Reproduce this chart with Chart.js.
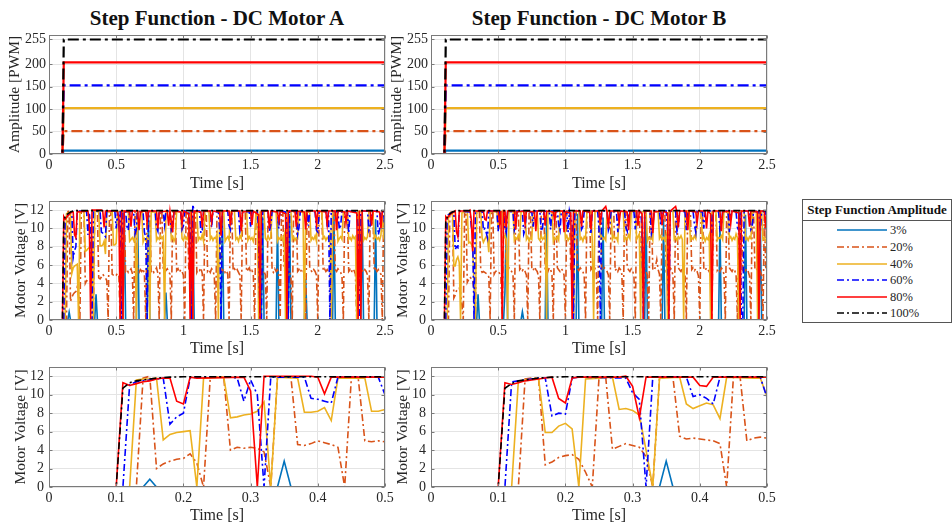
<!DOCTYPE html>
<html>
<head>
<meta charset="utf-8">
<title>Step Function - DC Motor A / B</title>
<script src="https://cdn.jsdelivr.net/npm/chart.js"></script>
<style>
  body { margin: 0; background: #fff; width: 952px; height: 524px; overflow: hidden; position: relative;
         font-family: 'Liberation Serif', 'Times New Roman', serif; color: #262626; }
  canvas { position: absolute; }
  .title { position: absolute; top: 6px; width: 400px; text-align: center; font-weight: bold; font-size: 21px; color: #111; }
  .legend { position: absolute; left: 802px; top: 199px; width: 148px; height: 122px; border: 1px solid #555; background: #fff; }
  .legend .head { height: 20px; line-height: 20px; text-align: center; font-weight: bold; font-size: 13px; color: #111; border-bottom: 1px solid #555; }
  .legend .rows { padding-top: 1.4px; }
  .legend .row { position: relative; height: 16.6px; }
  .legend .row canvas { left: 34px; top: 3px; }
  .legend .row span { position: absolute; left: 87px; top: 0; line-height: 16.6px; font-size: 12.5px; color: #262626; }
</style>
</head>
<body>
<div class="title" style="left:17px">Step Function - DC Motor A</div>
<div class="title" style="left:399px">Step Function - DC Motor B</div>
<div class="legend" id="legend">
  <div class="head">Step Function Amplitude</div>
  <div class="rows" id="legendRows"></div>
</div>

<script>
// axis ticks
const pwmTicks = [0, 50, 100, 150, 200, 255];
const voltTicks = [0, 2, 4, 6, 8, 10, 12];
const timeTicksFull = [0, 0.5, 1, 1.5, 2, 2.5];
const timeTicksZoom = [0, 0.1, 0.2, 0.3, 0.4, 0.5];

// series styling, one entry per step amplitude
const amplitudeLabels = ['3%', '20%', '40%', '60%', '80%', '100%'];
const amplitudeColors = ['#0072BD', '#D95319', '#EDB120', '#0000FF', '#FF0000', '#000000'];
const amplitudeDashed = [false, true, false, true, false, true];

// PWM command: 0 until the step, then the level
const pwmLevels = [7.65, 51, 102, 153, 204, 255];
const stepTimes = [0, 0.1, 0.11, 2.5];

// measured motor voltage, [time s, volts]
const motorA_v3 = [[0,0],[0.14,0],[0.15,0.85],[0.16,0],[0.34,0],[0.35,2.8],[0.36,0],[0.55,0],[0.56,11.6],[0.57,0],[0.65,0],[0.66,11.2],[0.67,0],[0.73,0],[0.74,11.5],[0.75,0],[0.86,0],[0.87,3.0],[0.88,0],[1.06,0],[1.07,11.4],[1.08,0],[1.28,0],[1.29,11.7],[1.3,0],[1.58,0],[1.59,11.3],[1.6,0],[1.69,0],[1.7,10.8],[1.71,0],[1.78,0],[1.79,11.6],[1.8,0],[1.9,0],[1.91,4.5],[1.92,0],[2.11,0],[2.12,11.5],[2.13,0],[2.32,0],[2.33,11.6],[2.34,0],[2.42,0],[2.43,11.0],[2.44,0],[2.5,0]];

const motorA_v20 = [[0,0],[0.13,0],[0.14,11.8],[0.15,12],[0.16,2.0],[0.17,2.5],[0.18,2.8],[0.19,3.0],[0.2,3.1],[0.21,3.6],[0.22,2.6],[0.23,0],[0.24,11.9],[0.26,11.9],[0.27,4.0],[0.28,4.3],[0.29,4.2],[0.3,4.3],[0.31,4.2],[0.32,3.8],[0.33,0],[0.34,11.9],[0.36,11.9],[0.37,4.6],[0.38,4.5],[0.39,4.7],[0.4,5.0],[0.41,4.8],[0.42,4.6],[0.43,4.3],[0.44,0],[0.45,11.9],[0.46,11.9],[0.47,5.0],[0.48,4.9],[0.49,5.0],[0.5,4.9],
  [0.51,5.1],[0.52,4.8],[0.53,0],[0.54,11.9],[0.56,11.9],[0.57,5.3],[0.58,5.5],[0.59,5.2],[0.6,5.4],[0.61,5.6],[0.62,5.1],[0.63,0],[0.64,11.9],[0.65,11.9],[0.66,5.4],[0.67,5.2],[0.68,5.5],[0.69,5.3],[0.7,5.6],[0.71,5.0],[0.72,0],[0.73,11.8],[0.75,11.9],[0.76,5.3],[0.77,5.5],[0.78,5.2],[0.79,5.4],[0.8,5.7],[0.81,5.1],[0.82,0],[0.83,11.9],[0.84,11.9],[0.85,5.5],[0.86,5.2],[0.87,5.4],[0.88,5.6],[0.89,5.3],[0.9,5.0],[0.91,0],[0.92,11.9],[0.94,11.8],[0.95,5.4],[0.96,5.6],[0.97,5.2],[0.98,5.5],[0.99,5.3],[1.0,4.9],[1.01,0],[1.02,11.9],[1.03,11.9],[1.04,5.6],[1.05,5.3],[1.06,0],[1.07,11.9],[1.09,11.9],[1.1,5.2],[1.11,5.5],[1.12,5.4],[1.13,5.7],[1.14,5.1],[1.15,0],[1.16,11.9],[1.17,11.9],[1.18,5.3],[1.19,5.5],[1.2,5.2],[1.21,5.6],[1.22,5.4],[1.23,4.8],[1.24,0],[1.25,11.9],[1.27,11.8],[1.28,5.5],[1.29,5.3],[1.3,5.6],[1.31,5.2],[1.32,5.4],[1.33,5.0],[1.34,0],[1.35,11.9],[1.36,11.9],[1.37,5.4],[1.38,5.6],[1.39,5.3],[1.4,5.5],[1.41,5.2],[1.42,4.9],[1.43,0],[1.44,11.9],[1.46,11.9],[1.47,5.3],[1.48,5.5],[1.49,5.7],[1.5,5.2],[1.51,5.4],[1.52,5.1],[1.53,0],[1.54,11.8],[1.55,11.9],[1.56,5.6],[1.57,5.3],[1.58,5.5],[1.59,5.2],[1.6,5.4],[1.61,4.9],[1.62,0],[1.63,11.9],[1.65,11.9],[1.66,5.4],[1.67,5.2],[1.68,5.6],[1.69,5.3],[1.7,5.5],[1.71,5.0],[1.72,0],[1.73,11.9],[1.74,11.9],[1.75,5.5],[1.76,5.3],[1.77,5.6],[1.78,5.4],[1.79,5.2],[1.8,4.8],[1.81,0],[1.82,11.9],[1.84,11.8],[1.85,5.3],[1.86,5.5],[1.87,5.2],[1.88,5.6],[1.89,5.4],[1.9,5.0],[1.91,0],[1.92,11.9],[1.93,11.9],[1.94,5.6],[1.95,5.4],[1.96,5.2],[1.97,5.5],[1.98,5.3],[1.99,4.9],[2.0,0],[2.01,11.9],[2.03,11.9],[2.04,5.4],[2.05,5.6],[2.06,5.3],[2.07,5.5],[2.08,5.2],[2.09,5.0],[2.1,0],[2.11,11.9],[2.12,11.9],[2.13,5.5],[2.14,5.3],[2.15,5.6],[2.16,5.4],[2.17,5.2],[2.18,4.8],[2.19,0],[2.2,11.8],[2.22,11.9],[2.23,5.3],[2.24,5.5],[2.25,5.2],[2.26,5.6],[2.27,5.4],[2.28,5.0],[2.29,0],[2.3,11.9],[2.31,11.9],[2.32,5.6],[2.33,5.4],[2.34,5.2],[2.35,5.5],[2.36,5.3],[2.37,4.9],[2.38,0],[2.39,11.9],[2.41,11.9],[2.42,5.4],[2.43,5.6],[2.44,5.3],[2.45,5.5],[2.46,5.2],[2.47,5.0],[2.48,0],[2.49,11.9],[2.5,11.9]];

const motorA_v40 = [[0,0],[0.12,0],[0.13,11.6],[0.14,11.7],[0.15,11.7],[0.16,11.8],[0.17,5.1],[0.18,5.7],[0.19,5.9],[0.2,6.0],[0.21,6.1],[0.22,0],[0.23,11.8],[0.26,11.9],[0.27,7.5],[0.28,7.6],[0.29,7.8],[0.3,7.9],[0.31,8.2],[0.32,9.2],[0.33,0],[0.34,11.9],[0.37,11.8],[0.38,8.1],[0.39,8.1],[0.4,8.2],[0.41,8.6],[0.42,7.2],[0.43,11.8],[0.47,11.8],[0.48,8.2],[0.49,8.2],[0.5,8.4],
  [0.51,11.8],[0.54,11.9],[0.55,0],[0.56,11.8],[0.59,11.8],[0.6,8.6],[0.61,8.8],[0.62,9.0],[0.63,8.7],[0.64,9.3],[0.65,0],[0.66,11.8],[0.69,11.9],[0.7,8.5],[0.71,8.9],[0.72,8.7],[0.73,9.1],[0.74,8.8],[0.75,0],[0.76,11.8],[0.79,11.8],[0.8,8.7],[0.81,9.0],[0.82,8.8],[0.83,9.2],[0.84,8.9],[0.85,9.1],[0.86,0],[0.87,11.9],[0.9,11.8],[0.91,8.8],[0.92,9.1],[0.93,8.6],[0.94,9.0],[0.95,11.9],[0.98,11.8],[0.99,8.9],[1.0,8.7],[1.01,9.2],[1.02,8.8],[1.03,9.0],[1.04,8.6],[1.05,11.8],[1.06,11.9],[1.07,0],[1.08,11.8],[1.1,11.9],[1.11,8.7],[1.12,9.0],[1.13,8.8],[1.14,9.3],[1.15,8.6],[1.16,11.9],[1.19,11.8],[1.2,8.8],[1.21,9.1],[1.22,8.7],[1.23,9.0],[1.24,8.9],[1.25,9.4],[1.26,0],[1.27,11.8],[1.3,11.9],[1.31,8.6],[1.32,8.9],[1.33,9.1],[1.34,8.7],[1.35,11.8],[1.38,11.9],[1.39,8.8],[1.4,9.0],[1.41,8.6],[1.42,9.2],[1.43,8.9],[1.44,11.8],[1.47,11.9],[1.48,8.7],[1.49,9.1],[1.5,8.8],[1.51,9.0],[1.52,8.6],[1.53,9.3],[1.54,11.8],[1.55,11.9],[1.56,0],[1.57,11.8],[1.6,11.8],[1.61,8.9],[1.62,8.7],[1.63,9.2],[1.64,8.8],[1.65,9.0],[1.66,11.9],[1.69,11.8],[1.7,8.6],[1.71,9.0],[1.72,8.8],[1.73,9.1],[1.74,8.7],[1.75,9.3],[1.76,0],[1.77,11.8],[1.8,11.9],[1.81,8.8],[1.82,9.1],[1.83,8.7],[1.84,9.0],[1.85,8.9],[1.86,11.8],[1.89,11.8],[1.9,0],[1.91,11.9],[1.94,11.8],[1.95,8.7],[1.96,9.0],[1.97,8.8],[1.98,9.2],[1.99,8.6],[2.0,11.9],[2.03,11.8],[2.04,8.9],[2.05,9.1],[2.06,8.7],[2.07,9.0],[2.08,8.8],[2.09,9.4],[2.1,0],[2.11,11.8],[2.14,11.9],[2.15,8.6],[2.16,8.9],[2.17,9.1],[2.18,8.8],[2.19,11.8],[2.22,11.9],[2.23,8.8],[2.24,9.0],[2.25,8.7],[2.26,9.2],[2.27,8.9],[2.28,9.1],[2.29,0],[2.3,11.8],[2.33,11.9],[2.34,8.7],[2.35,9.0],[2.36,8.8],[2.37,9.1],[2.38,11.9],[2.41,11.8],[2.42,8.9],[2.43,9.2],[2.44,8.8],[2.45,9.0],[2.46,8.7],[2.47,9.3],[2.48,11.8],[2.49,9.0],[2.5,8.6]];

const motorA_v60 = [[0,0],[0.11,0],[0.12,11.1],[0.13,11.4],[0.14,11.5],[0.15,11.6],[0.16,11.7],[0.17,11.8],[0.18,6.8],[0.19,7.6],[0.2,8.0],[0.21,11.8],[0.22,11.9],[0.27,11.9],[0.28,11.8],[0.29,9.3],[0.3,11.6],[0.31,10.0],[0.32,0],[0.33,11.9],[0.38,11.9],[0.39,9.6],[0.4,9.5],[0.41,9.3],[0.42,9.1],[0.43,11.9],[0.49,11.9],[0.5,10.0],
  [0.51,11.8],[0.52,10.4],[0.53,11.9],[0.54,0],[0.55,11.8],[0.57,11.9],[0.58,10.2],[0.59,9.8],[0.6,11.9],[0.63,11.8],[0.64,9.4],[0.65,9.9],[0.66,11.9],[0.7,11.8],[0.71,9.6],[0.72,9.0],[0.73,0],[0.74,11.9],[0.79,11.9],[0.8,10.1],[0.81,9.7],[0.82,11.9],[0.85,11.8],[0.86,10.4],[0.87,11.9],[0.9,11.9],[0.91,9.8],[0.92,10.2],[0.93,11.9],[0.98,11.9],[0.99,9.9],[1.0,10.3],[1.01,11.9],[1.04,11.8],[1.05,10.0],[1.06,0],[1.07,12.6],[1.08,11.9],[1.12,11.9],[1.13,9.5],[1.14,9.8],[1.15,11.9],[1.2,11.9],[1.21,10.1],[1.22,11.9],[1.26,11.8],[1.27,9.7],[1.28,0],[1.29,11.9],[1.33,11.9],[1.34,10.3],[1.35,9.9],[1.36,11.9],[1.41,11.9],[1.42,9.6],[1.43,10.0],[1.44,11.9],[1.49,11.8],[1.5,10.2],[1.51,11.9],[1.55,11.8],[1.56,9.9],[1.57,0],[1.58,0],[1.59,11.9],[1.63,11.9],[1.64,9.7],[1.65,10.4],[1.66,11.9],[1.7,11.8],[1.71,10.0],[1.72,11.9],[1.76,11.8],[1.77,10.5],[1.78,0],[1.79,11.9],[1.84,11.9],[1.85,9.4],[1.86,10.1],[1.87,11.9],[1.92,11.9],[1.93,10.3],[1.94,11.9],[1.98,11.8],[1.99,9.8],[2.0,9.6],[2.01,11.9],[2.06,11.9],[2.07,10.2],[2.08,11.9],[2.09,0],[2.1,11.9],[2.15,11.8],[2.16,9.9],[2.17,10.3],[2.18,11.9],[2.22,11.9],[2.23,9.5],[2.24,11.9],[2.29,11.8],[2.3,10.1],[2.31,0],[2.32,11.9],[2.37,11.9],[2.38,9.8],[2.39,10.2],[2.4,11.9],[2.44,11.9],[2.45,9.3],[2.46,9.9],[2.47,11.9],[2.49,11.8],[2.5,9.6]];

const motorA_v80 = [[0,0],[0.1,0],[0.11,11.3],[0.12,11.0],[0.13,11.2],[0.14,11.4],[0.15,11.5],[0.16,11.7],[0.17,11.8],[0.18,11.8],[0.19,9.3],[0.2,9.0],[0.21,11.9],[0.22,11.8],[0.29,11.9],[0.3,10.4],[0.31,0],[0.32,12],[0.39,12],[0.4,11.9],[0.41,10.1],[0.42,11.9],[0.5,11.9],
  [0.51,11.8],[0.52,11.2],[0.53,0],[0.54,12],[0.55,0],[0.56,11.9],[0.6,11.8],[0.61,10.2],[0.62,11.9],[0.66,11.9],[0.67,9.8],[0.68,11.8],[0.72,11.9],[0.73,10.6],[0.74,11.9],[0.8,11.9],[0.81,10.0],[0.82,11.8],[0.88,11.9],[0.89,10.3],[0.9,11.9],[0.92,9.6],[0.93,11.9],[0.98,11.8],[0.99,10.5],[1.0,11.9],[1.04,11.6],[1.05,0],[1.06,12],[1.07,0],[1.08,11.9],[1.13,11.8],[1.14,10.1],[1.15,11.9],[1.2,11.9],[1.21,10.7],[1.22,11.9],[1.27,11.8],[1.28,9.2],[1.29,11.9],[1.34,11.9],[1.35,10.3],[1.36,11.9],[1.42,11.9],[1.43,9.7],[1.44,11.8],[1.5,11.9],[1.51,10.4],[1.52,11.9],[1.56,11.5],[1.57,0],[1.58,11.9],[1.63,11.9],[1.64,10.0],[1.65,11.9],[1.7,11.8],[1.71,10.8],[1.72,11.9],[1.76,11.6],[1.77,0],[1.78,11.9],[1.83,11.9],[1.84,10.2],[1.85,11.9],[1.9,11.8],[1.91,9.9],[1.92,11.9],[1.98,11.9],[1.99,10.5],[2.0,11.9],[2.06,11.8],[2.07,10.4],[2.08,11.9],[2.13,11.9],[2.14,9.8],[2.15,11.9],[2.2,11.8],[2.21,10.6],[2.22,11.9],[2.29,11.7],[2.3,0],[2.31,11.9],[2.32,0],[2.33,11.9],[2.39,11.9],[2.4,10.3],[2.41,11.9],[2.46,11.8],[2.47,10.0],[2.48,11.9],[2.5,11.9]];

const motorA_v100 = [[0,0],[0.1,0],[0.11,10.7],[0.12,11.3],[0.13,11.5],[0.14,11.6],[0.15,11.7],[0.16,11.8],[0.17,11.85],[0.18,11.9],[0.2,11.95],[2.5,11.95]];

const motorB_v3 = [[0,0],[0.34,0],[0.35,2.8],[0.36,0],[0.54,0],[0.55,3.0],[0.56,11.4],[0.57,0],[0.67,0],[0.68,0.9],[0.69,0],[0.85,0],[0.86,11.3],[0.87,0],[1.08,0],[1.09,11.6],[1.1,0],[1.27,0],[1.28,11.2],[1.29,0],[1.59,0],[1.6,11.5],[1.61,0],[1.72,0],[1.73,11.0],[1.74,0],[2.14,0],[2.15,10.6],[2.16,0],[2.33,0],[2.34,11.5],[2.35,0],[2.44,0],[2.45,11.3],[2.46,0],[2.5,0]];

const motorB_v20 = [[0,0],[0.13,0],[0.14,11.7],[0.15,11.8],[0.16,11.8],[0.17,2.4],[0.18,2.7],[0.19,3.2],[0.2,3.4],[0.21,3.5],[0.22,3.0],[0.23,1.6],[0.24,0],[0.25,11.8],[0.26,11.9],[0.27,4.1],[0.28,4.4],[0.29,4.7],[0.3,4.5],[0.31,4.3],[0.32,3.3],[0.33,0],[0.34,11.8],[0.35,11.9],[0.36,11.9],[0.37,5.5],[0.38,5.2],[0.39,5.3],[0.4,5.2],[0.41,5.1],[0.42,5.0],[0.43,4.7],[0.44,0],[0.45,11.9],[0.46,11.9],[0.47,5.0],[0.48,5.3],[0.49,5.4],[0.5,5.3],
  [0.51,5.1],[0.52,4.7],[0.53,0],[0.54,11.9],[0.55,11.9],[0.56,5.6],[0.57,5.4],[0.58,5.7],[0.59,5.5],[0.6,5.3],[0.61,5.0],[0.62,0],[0.63,11.9],[0.65,11.9],[0.66,5.5],[0.67,5.7],[0.68,5.4],[0.69,5.6],[0.7,5.3],[0.71,4.9],[0.72,0],[0.73,11.9],[0.74,11.9],[0.75,5.6],[0.76,5.4],[0.77,5.8],[0.78,5.5],[0.79,5.3],[0.8,4.8],[0.81,0],[0.82,11.9],[0.84,11.8],[0.85,5.4],[0.86,5.6],[0.87,5.3],[0.88,5.7],[0.89,5.5],[0.9,5.0],[0.91,0],[0.92,11.9],[0.93,11.9],[0.94,5.7],[0.95,5.5],[0.96,5.3],[0.97,5.6],[0.98,5.4],[0.99,4.9],[1.0,0],[1.01,11.9],[1.03,11.9],[1.04,5.5],[1.05,5.2],[1.06,0],[1.07,11.8],[1.08,11.9],[1.09,5.6],[1.1,5.4],[1.11,5.7],[1.12,5.5],[1.13,5.3],[1.14,4.8],[1.15,0],[1.16,11.9],[1.18,11.9],[1.19,5.5],[1.2,5.7],[1.21,5.4],[1.22,5.6],[1.23,5.2],[1.24,0],[1.25,11.9],[1.26,11.9],[1.27,5.6],[1.28,5.4],[1.29,5.7],[1.3,5.5],[1.31,5.3],[1.32,4.9],[1.33,0],[1.34,11.9],[1.36,11.8],[1.37,5.4],[1.38,5.6],[1.39,5.3],[1.4,5.7],[1.41,5.5],[1.42,5.0],[1.43,0],[1.44,11.9],[1.45,11.9],[1.46,5.7],[1.47,5.5],[1.48,5.3],[1.49,5.6],[1.5,5.4],[1.51,4.8],[1.52,0],[1.53,11.9],[1.55,11.9],[1.56,5.5],[1.57,5.7],[1.58,5.4],[1.59,5.6],[1.6,5.3],[1.61,4.9],[1.62,0],[1.63,11.9],[1.64,11.9],[1.65,5.6],[1.66,5.4],[1.67,5.8],[1.68,6.6],[1.69,5.5],[1.7,5.0],[1.71,0],[1.72,11.9],[1.74,11.8],[1.75,5.4],[1.76,5.6],[1.77,5.3],[1.78,5.7],[1.79,5.5],[1.8,4.9],[1.81,0],[1.82,11.9],[1.83,11.9],[1.84,5.7],[1.85,5.5],[1.86,5.3],[1.87,5.6],[1.88,5.4],[1.89,5.0],[1.9,0],[1.91,11.9],[1.93,11.9],[1.94,5.5],[1.95,5.7],[1.96,5.4],[1.97,5.6],[1.98,5.3],[1.99,4.8],[2.0,0],[2.01,11.9],[2.02,11.9],[2.03,5.6],[2.04,5.4],[2.05,5.7],[2.06,5.5],[2.07,5.3],[2.08,4.9],[2.09,0],[2.1,11.9],[2.12,11.8],[2.13,5.4],[2.14,5.6],[2.15,5.3],[2.16,5.7],[2.17,5.5],[2.18,5.0],[2.19,0],[2.2,11.9],[2.21,11.9],[2.22,5.7],[2.23,5.5],[2.24,5.3],[2.25,5.6],[2.26,5.4],[2.27,4.9],[2.28,0],[2.29,11.9],[2.31,11.9],[2.32,5.5],[2.33,5.7],[2.34,5.4],[2.35,5.6],[2.36,5.3],[2.37,4.8],[2.38,0],[2.39,11.9],[2.4,11.9],[2.41,5.6],[2.42,5.4],[2.43,5.7],[2.44,5.5],[2.45,5.3],[2.46,4.9],[2.47,0],[2.48,11.9],[2.49,5.8],[2.5,5.5]];

const motorB_v40 = [[0,0],[0.12,0],[0.13,11.5],[0.14,11.6],[0.15,11.7],[0.16,11.8],[0.17,5.9],[0.18,5.9],[0.19,6.6],[0.2,6.9],[0.21,6.3],[0.22,0],[0.23,11.7],[0.25,11.8],[0.27,11.9],[0.28,8.4],[0.29,8.5],[0.3,8.3],[0.31,7.8],[0.32,4.0],[0.33,0],[0.34,11.8],[0.37,11.9],[0.38,9.0],[0.39,8.5],[0.4,8.8],[0.41,9.1],[0.42,8.9],[0.43,7.4],[0.44,11.9],[0.48,11.8],[0.49,11.8],[0.5,9.8],
  [0.51,11.8],[0.53,11.9],[0.54,8.9],[0.55,9.2],[0.56,8.8],[0.57,0],[0.58,11.8],[0.61,11.9],[0.62,8.7],[0.63,9.0],[0.64,8.8],[0.65,9.3],[0.66,8.9],[0.67,11.8],[0.7,11.9],[0.71,8.8],[0.72,9.1],[0.73,8.6],[0.74,9.0],[0.75,8.8],[0.76,11.9],[0.79,11.8],[0.8,8.9],[0.81,8.7],[0.82,9.2],[0.83,8.8],[0.84,9.0],[0.85,9.3],[0.86,0],[0.87,11.8],[0.9,11.9],[0.91,8.6],[0.92,9.0],[0.93,8.8],[0.94,9.1],[0.95,8.7],[0.96,11.9],[0.99,11.8],[1.0,8.9],[1.01,9.2],[1.02,8.7],[1.03,9.0],[1.04,8.8],[1.05,9.4],[1.06,0],[1.07,11.8],[1.1,11.9],[1.11,8.8],[1.12,9.0],[1.13,8.6],[1.14,9.1],[1.15,8.9],[1.16,11.8],[1.19,11.9],[1.2,8.7],[1.21,0],[1.22,11.8],[1.25,11.9],[1.26,8.9],[1.27,9.1],[1.28,8.8],[1.29,9.0],[1.3,8.7],[1.31,11.9],[1.34,11.8],[1.35,8.8],[1.36,9.2],[1.37,8.9],[1.38,9.0],[1.39,8.6],[1.4,11.8],[1.43,11.9],[1.44,8.7],[1.45,9.0],[1.46,8.8],[1.47,9.3],[1.48,8.9],[1.49,11.8],[1.52,11.9],[1.53,8.8],[1.54,9.1],[1.55,9.4],[1.56,0],[1.57,11.8],[1.6,11.9],[1.61,8.6],[1.62,9.0],[1.63,8.8],[1.64,9.1],[1.65,8.7],[1.66,11.9],[1.69,11.8],[1.7,8.9],[1.71,9.2],[1.72,8.8],[1.73,9.0],[1.74,8.7],[1.75,9.3],[1.76,0],[1.77,11.8],[1.8,11.9],[1.81,8.8],[1.82,9.0],[1.83,8.7],[1.84,9.1],[1.85,8.9],[1.86,9.2],[1.87,8.8],[1.88,0],[1.89,11.8],[1.92,11.9],[1.93,8.7],[1.94,9.0],[1.95,8.8],[1.96,9.2],[1.97,8.9],[1.98,11.8],[2.01,11.9],[2.02,8.8],[2.03,9.1],[2.04,8.6],[2.05,9.0],[2.06,8.8],[2.07,9.3],[2.08,0],[2.09,11.8],[2.12,11.9],[2.13,8.7],[2.14,9.0],[2.15,8.9],[2.16,9.2],[2.17,8.8],[2.18,11.9],[2.21,11.8],[2.22,8.9],[2.23,9.1],[2.24,8.7],[2.25,9.0],[2.26,8.8],[2.27,9.4],[2.28,9.0],[2.29,0],[2.3,11.8],[2.33,11.9],[2.34,8.8],[2.35,9.0],[2.36,8.7],[2.37,9.1],[2.38,8.9],[2.39,11.8],[2.42,11.9],[2.43,0],[2.44,11.8],[2.46,11.9],[2.47,8.8],[2.48,9.0],[2.49,8.7],[2.5,8.5]];

const motorB_v60 = [[0,0],[0.11,0],[0.12,11.4],[0.13,11.5],[0.14,11.6],[0.15,11.7],[0.16,11.8],[0.17,11.8],[0.18,7.7],[0.19,8.0],[0.2,7.9],[0.21,11.8],[0.22,11.9],[0.29,11.8],[0.3,10.2],[0.31,9.5],[0.32,0],[0.33,11.9],[0.38,11.9],[0.39,9.8],[0.4,10.0],[0.41,9.6],[0.42,9.0],[0.43,11.9],[0.49,11.9],[0.5,9.7],
  [0.51,11.9],[0.54,11.9],[0.55,10.0],[0.56,9.6],[0.57,11.9],[0.61,11.8],[0.62,9.8],[0.63,10.3],[0.64,11.9],[0.68,11.9],[0.69,9.4],[0.7,9.9],[0.71,11.9],[0.75,11.8],[0.76,10.2],[0.77,11.9],[0.81,11.9],[0.82,9.7],[0.83,10.1],[0.84,11.9],[0.88,11.8],[0.89,9.9],[0.9,11.9],[0.94,11.9],[0.95,10.4],[0.96,9.8],[0.97,11.9],[1.01,11.8],[1.02,9.6],[1.03,11.9],[1.05,10.5],[1.06,0],[1.07,11.9],[1.11,11.9],[1.12,9.9],[1.13,10.2],[1.14,11.9],[1.18,11.8],[1.19,9.5],[1.2,11.9],[1.24,11.9],[1.25,10.0],[1.26,0],[1.27,11.9],[1.31,11.9],[1.32,9.8],[1.33,10.3],[1.34,11.9],[1.38,11.8],[1.39,9.6],[1.4,11.9],[1.44,11.9],[1.45,10.1],[1.46,9.7],[1.47,11.9],[1.51,11.8],[1.52,9.9],[1.53,11.9],[1.56,11.8],[1.57,10.2],[1.58,0],[1.59,11.9],[1.63,11.9],[1.64,9.4],[1.65,10.0],[1.66,11.9],[1.7,11.8],[1.71,10.3],[1.72,11.9],[1.75,11.9],[1.76,9.9],[1.77,0],[1.78,11.9],[1.82,11.9],[1.83,9.7],[1.84,10.2],[1.85,11.9],[1.89,11.8],[1.9,9.8],[1.91,11.9],[1.95,11.9],[1.96,10.4],[1.97,9.6],[1.98,11.9],[2.02,11.8],[2.03,10.0],[2.04,11.9],[2.08,11.9],[2.09,9.5],[2.1,11.9],[2.14,11.8],[2.15,9.9],[2.16,10.3],[2.17,11.9],[2.21,11.9],[2.22,9.6],[2.23,11.9],[2.27,11.8],[2.28,10.1],[2.29,9.8],[2.3,11.9],[2.31,0],[2.32,0],[2.33,11.9],[2.37,11.9],[2.38,9.9],[2.39,10.2],[2.4,11.9],[2.44,11.8],[2.45,9.7],[2.46,11.9],[2.49,11.8],[2.5,10.1]];

const motorB_v80 = [[0,0],[0.1,0],[0.11,11.3],[0.12,11.1],[0.13,11.3],[0.14,11.5],[0.15,11.6],[0.16,11.7],[0.17,11.8],[0.18,11.9],[0.19,9.6],[0.2,9.1],[0.21,11.8],[0.22,11.9],[0.28,11.9],[0.29,12],[0.3,10.9],[0.31,7.5],[0.32,11.9],[0.39,11.9],[0.4,11.0],[0.41,10.9],[0.42,11.9],[0.5,11.9],
  [0.51,10.6],[0.52,11.9],[0.53,0],[0.54,11.9],[0.55,11.8],[0.56,10.1],[0.57,11.9],[0.62,11.9],[0.63,9.9],[0.64,11.8],[0.69,11.9],[0.7,10.5],[0.71,11.9],[0.77,11.8],[0.78,9.7],[0.79,11.9],[0.84,11.9],[0.85,10.3],[0.86,11.9],[0.91,11.8],[0.92,10.8],[0.93,11.9],[0.98,11.9],[0.99,9.6],[1.0,11.8],[1.04,11.7],[1.05,0],[1.06,11.9],[1.11,11.9],[1.12,10.2],[1.13,11.9],[1.18,11.8],[1.19,9.9],[1.2,11.9],[1.25,11.9],[1.26,10.4],[1.27,11.9],[1.3,12.4],[1.31,11.8],[1.32,10.0],[1.33,11.9],[1.39,11.9],[1.4,10.6],[1.41,11.9],[1.46,11.8],[1.47,9.8],[1.48,11.9],[1.53,11.9],[1.54,10.3],[1.55,11.9],[1.57,11.6],[1.58,0],[1.59,11.9],[1.64,11.9],[1.65,9.5],[1.66,11.8],[1.71,11.9],[1.72,10.4],[1.73,11.9],[1.76,11.7],[1.77,0],[1.78,11.9],[1.82,12.4],[1.83,11.8],[1.84,10.1],[1.85,11.9],[1.9,11.9],[1.91,9.8],[1.92,11.9],[1.97,11.8],[1.98,10.6],[1.99,11.9],[2.04,11.9],[2.05,10.0],[2.06,11.9],[2.08,11.6],[2.09,0],[2.1,11.9],[2.15,11.9],[2.16,9.7],[2.17,11.8],[2.22,11.9],[2.23,10.5],[2.24,11.9],[2.29,11.7],[2.3,0],[2.31,11.9],[2.36,11.9],[2.37,10.2],[2.38,11.9],[2.43,11.8],[2.44,0],[2.45,11.9],[2.48,11.9],[2.49,10.4],[2.5,11.7]];

const motorB_v100 = [[0,0],[0.1,0],[0.11,10.7],[0.12,11.2],[0.13,11.5],[0.14,11.6],[0.15,11.7],[0.16,11.8],[0.17,11.85],[0.18,11.9],[0.2,11.95],[2.5,11.95]];

const motorA_voltage = [motorA_v3, motorA_v20, motorA_v40, motorA_v60, motorA_v80, motorA_v100];
const motorB_voltage = [motorB_v3, motorB_v20, motorB_v40, motorB_v60, motorB_v80, motorB_v100];

const serif = "'Liberation Serif', 'Times New Roman', serif";
const axisColor = '#262626';

// PWM step built from the levels and step timing
const pwmSeries = pwmLevels.map(level => [
  [stepTimes[0], 0], [stepTimes[1], 0], [stepTimes[2], level], [stepTimes[3], level]
]);

// MATLAB-style axes box with inward tick marks
const axesBox = {
  id: 'axesBox',
  afterDraw(chart) {
    const { ctx, chartArea: a, scales } = chart;
    const l = Math.round(a.left) + 0.5, t = Math.round(a.top) + 0.5;
    const r = Math.round(a.right) - 0.5, b = Math.round(a.bottom) - 0.5;
    ctx.save();
    ctx.strokeStyle = '#7a7a7a';
    ctx.lineWidth = 1;
    ctx.strokeRect(l, t, r - l, b - t);
    ctx.beginPath();
    scales.x.ticks.forEach(tk => {
      const x = Math.round(scales.x.getPixelForValue(tk.value)) + 0.5;
      ctx.moveTo(x, b); ctx.lineTo(x, b - 3);
      ctx.moveTo(x, t); ctx.lineTo(x, t + 3);
    });
    scales.y.ticks.forEach(tk => {
      const y = Math.round(scales.y.getPixelForValue(tk.value)) + 0.5;
      ctx.moveTo(l, y); ctx.lineTo(l + 3, y);
      ctx.moveTo(r, y); ctx.lineTo(r - 3, y);
    });
    ctx.stroke();
    ctx.restore();
  }
};

function lineSets(seriesList, wide) {
  return seriesList.map((pairs, i) => ({
    label: amplitudeLabels[i],
    data: pairs.map(p => ({ x: p[0], y: p[1] })),
    borderColor: amplitudeColors[i],
    borderWidth: wide ? 2.2 : 1.6,
    borderDash: amplitudeDashed[i] ? (wide ? [11, 4, 3, 4] : [7, 3, 2, 3]) : [],
    pointRadius: 0,
    tension: 0,
    fill: false,
    order: seriesList.length - 1 - i
  }));
}

function addPanel(o) {
  const c = document.createElement('canvas');
  c.width = o.w; c.height = o.h;
  c.style.left = o.left + 'px';
  c.style.top = o.top + 'px';
  document.body.appendChild(c);
  return new Chart(c, {
    type: 'line',
    data: { datasets: lineSets(o.series, o.wide) },
    options: {
      responsive: false,
      animation: false,
      devicePixelRatio: 1,
      layout: { padding: { top: 14, right: 16, left: 0, bottom: 0 } },
      plugins: { legend: { display: false }, tooltip: { enabled: false } },
      scales: {
        x: {
          type: 'linear', min: 0, max: o.xMax,
          grid: { color: '#e4e4e4', drawTicks: false },
          border: { display: false },
          ticks: { font: { family: serif, size: 14 }, color: axisColor, padding: 3, maxRotation: 0, autoSkip: false,
                   callback: v => String(v) },
          afterBuildTicks: s => { s.ticks = o.xTicks.map(v => ({ value: v })); },
          afterFit: s => { s.height = o.xh; },
          title: { display: true, text: 'Time [s]', color: axisColor,
                   font: { family: serif, size: 16 }, padding: { top: 0, bottom: 0 } }
        },
        y: {
          type: 'linear', min: 0, max: o.yMax,
          grid: { color: '#e4e4e4', drawTicks: false },
          border: { display: false },
          ticks: { font: { family: serif, size: 14 }, color: axisColor, padding: o.yPad, autoSkip: false,
                   callback: v => String(v) },
          afterBuildTicks: s => { s.ticks = o.yTicks.map(v => ({ value: v })); },
          afterFit: s => { s.width = 49; },
          title: { display: true, text: o.yTitle, color: axisColor,
                   font: { family: serif, size: 15.5 }, padding: { top: o.yTitlePad, bottom: 0 } }
        }
      }
    },
    plugins: [axesBox]
  });
}

const columns = [
  { left: 0, voltage: motorA_voltage },
  { left: 382, voltage: motorB_voltage }
];

columns.forEach(col => {
  // step command
  addPanel({ left: col.left, top: 21, w: 401, h: 172, xh: 39, series: pwmSeries, wide: true,
             xMax: 2.5, xTicks: timeTicksFull, yMax: 265, yTicks: pwmTicks,
             yTitle: 'Amplitude [PWM]', yPad: 3, yTitlePad: 6 });
  // full response
  addPanel({ left: col.left, top: 187, w: 401, h: 171, xh: 38, series: col.voltage, wide: false,
             xMax: 2.5, xTicks: timeTicksFull, yMax: 13, yTicks: voltTicks,
             yTitle: 'Motor Voltage [V]', yPad: 5, yTitlePad: 12 });
  // first half second
  addPanel({ left: col.left, top: 353, w: 401, h: 172, xh: 38, series: col.voltage, wide: false,
             xMax: 0.5, xTicks: timeTicksZoom, yMax: 13, yTicks: voltTicks,
             yTitle: 'Motor Voltage [V]', yPad: 5, yTitlePad: 12 });
});

// legend rows with line samples
const rows = document.getElementById('legendRows');
amplitudeLabels.forEach((lab, i) => {
  const row = document.createElement('div');
  row.className = 'row';
  const sw = document.createElement('canvas');
  sw.width = 50; sw.height = 10;
  const g = sw.getContext('2d');
  g.strokeStyle = amplitudeColors[i];
  g.lineWidth = 1.5;
  g.setLineDash(amplitudeDashed[i] ? [7, 3, 2, 3] : []);
  g.beginPath(); g.moveTo(0, 5); g.lineTo(50, 5); g.stroke();
  const sp = document.createElement('span');
  sp.textContent = lab;
  row.appendChild(sw);
  row.appendChild(sp);
  rows.appendChild(row);
});
</script>
</body>
</html>
